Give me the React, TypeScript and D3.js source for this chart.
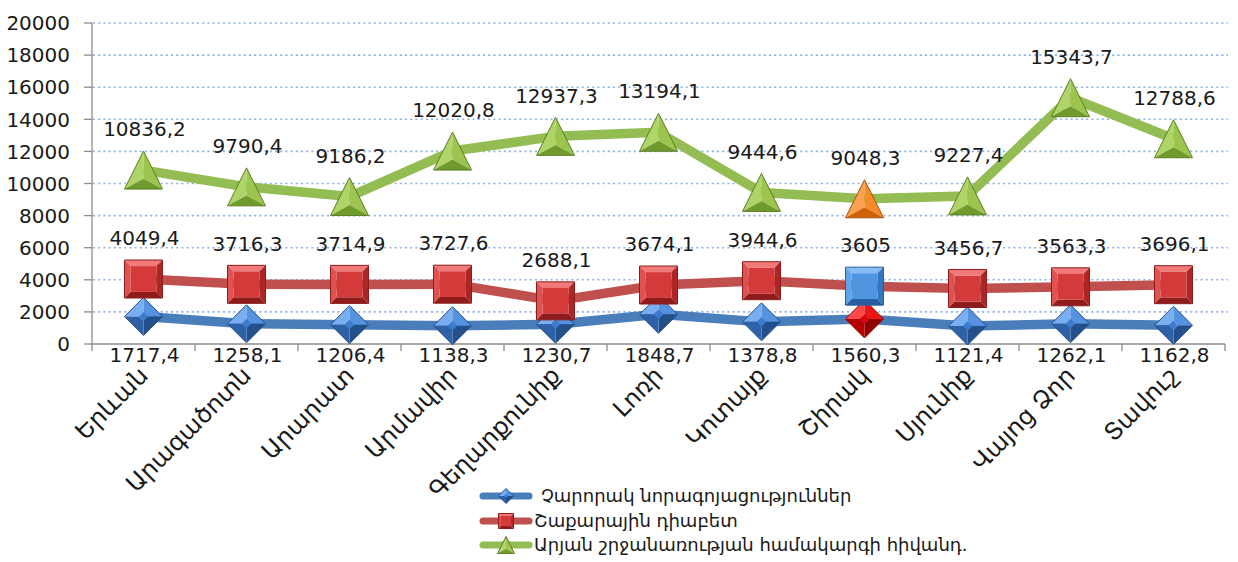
import React from "react";
import * as d3 from "d3";

const categories = ["Երևան", "Արագածոտն", "Արարատ", "Արմավիր", "Գեղարքունիք", "Լոռի", "Կոտայք", "Շիրակ", "Սյունիք", "Վայոց Ձոր", "Տավուշ"];
const cancerValues = [1717.4, 1258.1, 1206.4, 1138.3, 1230.7, 1848.7, 1378.8, 1560.3, 1121.4, 1262.1, 1162.8];
const diabetesValues = [4049.4, 3716.3, 3714.9, 3727.6, 2688.1, 3674.1, 3944.6, 3605, 3456.7, 3563.3, 3696.1];
const circulatoryValues = [10836.2, 9790.4, 9186.2, 12020.8, 12937.3, 13194.1, 9444.6, 9048.3, 9227.4, 15343.7, 12788.6];
const seriesNames = ["Չարորակ նորագոյացություններ", "Շաքարային դիաբետ", "Արյան շրջանառության համակարգի հիվանդ."];
const yTicks = [0, 2000, 4000, 6000, 8000, 10000, 12000, 14000, 16000, 18000, 20000];
const highlightCategory = "Շիրակ";

const W = 1238, H = 562;
const FONT = "'DejaVu Sans', 'Noto Sans', sans-serif";

type Pal = { base: string; light: string; mid: string; dark: string; darker: string };
const bluePal: Pal = { base: "#3b7bd0", light: "#79aef0", mid: "#5592e0", dark: "#2e62a8", darker: "#234f8a" };
const redPal: Pal = { base: "#d53a3a", light: "#f07a78", mid: "#e05252", dark: "#ac2626", darker: "#8e1c1c" };
const greenPal: Pal = { base: "#8ab63f", light: "#afd468", mid: "#9cc44f", dark: "#6f9a2c", darker: "#5a7f22" };
const orangePal: Pal = { base: "#f07c16", light: "#fba250", mid: "#f58a2a", dark: "#cf6208", darker: "#a84f06" };
const lightBluePal: Pal = { base: "#4f95e0", light: "#86bdf5", mid: "#62a4ea", dark: "#3575c2", darker: "#285e9f" };
const brightRedPal: Pal = { base: "#e20000", light: "#ff4a4a", mid: "#ee1515", dark: "#b80000", darker: "#900000" };

const pts = (a: number[][]) => a.map((p) => p.join(",")).join(" ");

function Square({ cx, cy, s, p }: { cx: number; cy: number; s: number; p: Pal }) {
  const h = s / 2, i = s * 0.16;
  const A = [cx - h, cy - h], B = [cx + h, cy - h], C = [cx + h, cy + h], D = [cx - h, cy + h];
  const a = [cx - h + i, cy - h + i], b = [cx + h - i, cy - h + i], c = [cx + h - i, cy + h - i], d = [cx - h + i, cy + h - i];
  return (
    <g>
      <polygon points={pts([A, B, b, a])} fill={p.light} />
      <polygon points={pts([A, a, d, D])} fill={p.mid} />
      <polygon points={pts([B, C, c, b])} fill={p.dark} />
      <polygon points={pts([D, d, c, C])} fill={p.darker} />
      <polygon points={pts([a, b, c, d])} fill={p.base} />
      <polygon points={pts([A, B, C, D])} fill="none" stroke={p.darker} strokeWidth={1} />
    </g>
  );
}

function Diamond({ cx, cy, s, p }: { cx: number; cy: number; s: number; p: Pal }) {
  const h = s / 2, k = s * 0.12;
  const T = [cx, cy - h], R = [cx + h, cy], B = [cx, cy + h], L = [cx - h, cy];
  const t = [cx, cy - k], r = [cx + k, cy], b = [cx, cy + k], l = [cx - k, cy];
  return (
    <g>
      <polygon points={pts([T, L, l, t])} fill={p.light} />
      <polygon points={pts([T, R, r, t])} fill={p.mid} />
      <polygon points={pts([R, B, b, r])} fill={p.darker} />
      <polygon points={pts([B, L, l, b])} fill={p.dark} />
      <polygon points={pts([t, r, b, l])} fill={p.base} />
      <polygon points={pts([T, R, B, L])} fill="none" stroke={p.darker} strokeWidth={1} />
    </g>
  );
}

function Triangle({ cx, cy, s, p }: { cx: number; cy: number; s: number; p: Pal }) {
  const h = s / 2;
  const T = [cx, cy - h], BL = [cx - h, cy + h], BR = [cx + h, cy + h];
  const c = [cx, cy + h * 0.45];
  return (
    <g>
      <polygon points={pts([T, BL, c])} fill={p.light} />
      <polygon points={pts([T, BR, c])} fill={p.mid} />
      <polygon points={pts([BL, BR, c])} fill={p.dark} />
      <polygon points={pts([T, BL, BR])} fill="none" stroke={p.darker} strokeWidth={1} />
    </g>
  );
}

export default function App() {
  const left = 92, right = 1225, top = 23, bottom = 344;
  const x = d3.scaleBand<string>().domain(categories).range([left, right]).padding(0);
  const cx = (c: string) => (x(c) as number) + x.bandwidth() / 2;
  const y = d3.scaleLinear().domain([0, 20000]).range([bottom, top]);

  const line = d3.line<number>().x((_, i) => cx(categories[i])).y((v) => y(v));

  const series = [
    { values: circulatoryValues, color: "#93bc52", pal: greenPal, hl: orangePal, shape: "tri", above: true },
    { values: diabetesValues, color: "#c0504d", pal: redPal, hl: lightBluePal, shape: "sq", above: true },
    { values: cancerValues, color: "#4a7ebb", pal: bluePal, hl: brightRedPal, shape: "dia", above: false },
  ];
  const drawOrder = [series[2], series[1], series[0]];

  const marker = (shape: string, px: number, py: number, s: number, p: Pal, key?: any) => {
    if (shape === "tri") return <Triangle key={key} cx={px} cy={py} s={s} p={p} />;
    if (shape === "sq") return <Square key={key} cx={px} cy={py} s={s} p={p} />;
    return <Diamond key={key} cx={px} cy={py} s={s} p={p} />;
  };

  const fmt = (v: number) => String(v).replace(".", ",");

  const legendRows = [
    { name: seriesNames[0], color: "#4a7ebb", pal: bluePal, shape: "dia", y: 496, tx: 541 },
    { name: seriesNames[1], color: "#c0504d", pal: redPal, shape: "sq", y: 521, tx: 534 },
    { name: seriesNames[2], color: "#93bc52", pal: greenPal, shape: "tri", y: 545, tx: 534 },
  ];

  return (
    <svg width={W} height={H} style={{ position: "absolute", left: 0, top: 0, background: "#fff" }} fontFamily={FONT}>
      <rect width={W} height={H} fill="#fff" />
      {/* gridlines */}
      {yTicks.filter((t) => t > 0).map((t) => (
        <line key={t} x1={left + 1} x2={right + 3} y1={y(t)} y2={y(t)} stroke="#8db0e6" strokeWidth={1.6} strokeDasharray="2,3.2" />
      ))}
      {/* axes */}
      <line x1={left} x2={left} y1={top} y2={bottom} stroke="#8c8c8c" strokeWidth={1.3} />
      <line x1={left} x2={right} y1={bottom} y2={bottom} stroke="#8c8c8c" strokeWidth={1.3} />
      {yTicks.map((t) => (
        <g key={t}>
          <line x1={left - 8} x2={left} y1={y(t)} y2={y(t)} stroke="#8c8c8c" strokeWidth={1.3} />
          <text x={70} y={y(t)} dy="0.36em" textAnchor="end" fontSize={20} fill="#1a1a1a">{t}</text>
        </g>
      ))}
      {d3.range(categories.length + 1).map((i) => {
        const xx = left + i * x.bandwidth();
        return <line key={i} x1={xx} x2={xx} y1={bottom} y2={bottom + 7} stroke="#8c8c8c" strokeWidth={1.3} />;
      })}
      {/* category labels */}
      {categories.map((c) => (
        <text key={c} transform={`translate(${cx(c) + 6},${377}) rotate(-45)`} textAnchor="end" fontSize={24} fill="#1a1a1a">{c}</text>
      ))}
      {/* lines */}
      {drawOrder.map((s, k) => (
        <path key={k} d={line(s.values) || ""} fill="none" stroke={s.color} strokeWidth={9.5} strokeLinejoin="round" />
      ))}
      {/* markers */}
      {drawOrder.map((s, k) => (
        <g key={k}>
          {s.values.map((v, i) => marker(s.shape, cx(categories[i]), y(v), 38, categories[i] === highlightCategory ? s.hl : s.pal, i))}
        </g>
      ))}
      {/* data labels */}
      {series.map((s, k) => (
        <g key={k}>
          {s.values.map((v, i) => (
            <text key={i} x={cx(categories[i]) + 1} y={s.above ? y(v) - 41 : bottom + 11} dy="0.36em" textAnchor="middle" fontSize={20} fill="#1a1a1a">{fmt(v)}</text>
          ))}
        </g>
      ))}
      {/* legend */}
      {legendRows.map((r, k) => (
        <g key={k}>
          <line x1={483} x2={529} y1={r.y} y2={r.y} stroke={r.color} strokeWidth={7} strokeLinecap="round" />
          {marker(r.shape, 506, r.y, r.shape === "tri" ? 17 : 15, r.pal)}
          <text x={r.tx} y={r.y} dy="0.36em" fontSize={18} fill="#1a1a1a">{r.name}</text>
        </g>
      ))}
    </svg>
  );
}
